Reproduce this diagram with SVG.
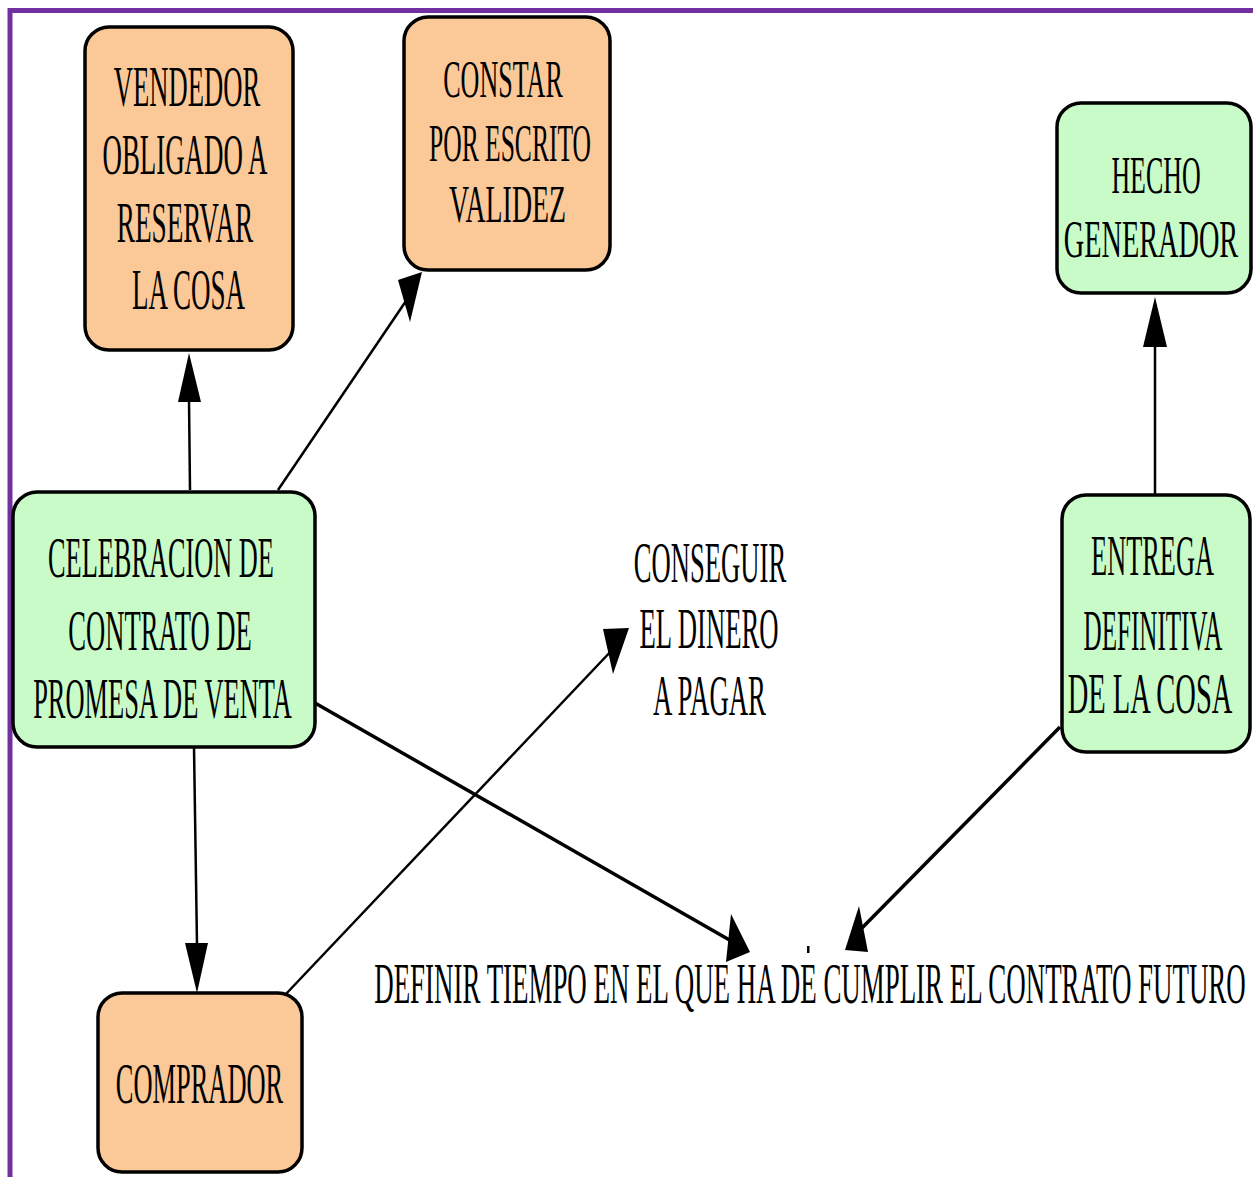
<svg xmlns="http://www.w3.org/2000/svg" width="1253" height="1177" viewBox="0 0 1253 1177">
<style>
.bg{fill:#ffffff}
.frame{fill:none;stroke:#7030A0;stroke-width:5}
.peach{fill:#FBC898;stroke:#000;stroke-width:3.5}
.green{fill:#C8FBC8;stroke:#000;stroke-width:3.5}
.t{font-family:"Liberation Serif","Times New Roman",serif;font-size:56px;fill:#000;text-anchor:middle}
.s53{font-size:53px}
.s58{font-size:58px}
.ln{fill:none;stroke:#000;stroke-width:2.5}
.lnb{fill:none;stroke:#000;stroke-width:3.5}
.ah{fill:#000;stroke:none}
</style>
<rect class="bg" x="0" y="0" width="1253" height="1177"/>
<rect class="frame" x="10" y="10.5" width="1300" height="1300"/>
<g id="connectors">
  <line class="ln" x1="190" y1="490" x2="189" y2="400"/>
  <polygon class="ah" points="189,353 178,402 201,402"/>
  <line class="ln" x1="278" y1="490" x2="408" y2="298"/>
  <polygon class="ah" points="422,272 398,280 410,322"/>
  <line class="ln" x1="1155" y1="495" x2="1155" y2="345"/>
  <polygon class="ah" points="1155,297 1143,347 1167,347"/>
  <line class="ln" x1="194" y1="747" x2="197" y2="945"/>
  <polygon class="ah" points="197,993 185,943 208,943"/>
  <line class="ln" x1="285" y1="995" x2="614" y2="648"/>
  <polygon class="ah" points="603,629 629,628 613,674"/>
  <line class="lnb" x1="315" y1="703" x2="733" y2="942"/>
  <polygon class="ah" points="731,914 750,952 726,962"/>
  <line class="lnb" x1="1060" y1="727" x2="862" y2="928"/>
  <polygon class="ah" points="859,906 868,952 845,950"/>
  <rect class="ah" x="807" y="946" width="2.5" height="7"/>
</g>
<g id="vendedor">
  <rect class="peach" x="85" y="27" width="208" height="323" rx="24"/>
  <text class="t" transform="translate(187,106) scale(0.475,1)">VENDEDOR</text>
  <text class="t" transform="translate(185,174) scale(0.480,1)">OBLIGADO A</text>
  <text class="t" transform="translate(185,242) scale(0.486,1)">RESERVAR</text>
  <text class="t" transform="translate(188.5,309) scale(0.482,1)">LA COSA</text>
</g>
<g id="constar">
  <rect class="peach" x="404" y="17" width="206" height="253" rx="24"/>
  <text class="t s53" transform="translate(503,97) scale(0.492,1)">CONSTAR</text>
  <text class="t s53" transform="translate(510,161) scale(0.482,1)">POR ESCRITO</text>
  <text class="t s53" transform="translate(507.5,222) scale(0.526,1)">VALIDEZ</text>
</g>
<g id="hecho">
  <rect class="green" x="1057" y="103" width="194" height="190" rx="24"/>
  <text class="t s53" transform="translate(1156,193) scale(0.489,1)">HECHO</text>
  <text class="t s53" transform="translate(1151,257) scale(0.534,1)">GENERADOR</text>
</g>
<g id="celebracion">
  <rect class="green" x="13" y="492" width="302" height="255" rx="24"/>
  <text class="t" transform="translate(161,577) scale(0.470,1)">CELEBRACION DE</text>
  <text class="t" transform="translate(160,650) scale(0.475,1)">CONTRATO DE</text>
  <text class="t" transform="translate(162.5,718) scale(0.472,1)">PROMESA DE VENTA</text>
</g>
<g id="conseguir">
  <text class="t s58" transform="translate(710,582) scale(0.459,1)">CONSEGUIR</text>
  <text class="t s58" transform="translate(709,648) scale(0.460,1)">EL DINERO</text>
  <text class="t s58" transform="translate(709.5,715) scale(0.462,1)">A PAGAR</text>
</g>
<g id="entrega">
  <rect class="green" x="1062" y="495" width="188" height="257" rx="24"/>
  <text class="t" transform="translate(1152.5,575) scale(0.470,1)">ENTREGA</text>
  <text class="t" transform="translate(1153,650) scale(0.448,1)">DEFINITIVA</text>
  <text class="t" transform="translate(1150,713) scale(0.509,1)">DE LA COSA</text>
</g>
<g id="definir">
  <text class="t s58" transform="translate(810,1003) scale(0.464,1)">DEFINIR TIEMPO EN EL QUE HA DE CUMPLIR EL CONTRATO FUTURO</text>
</g>
<g id="comprador">
  <rect class="peach" x="98" y="993" width="204" height="179" rx="24"/>
  <text class="t" transform="translate(199.5,1103) scale(0.472,1)">COMPRADOR</text>
</g>
</svg>
